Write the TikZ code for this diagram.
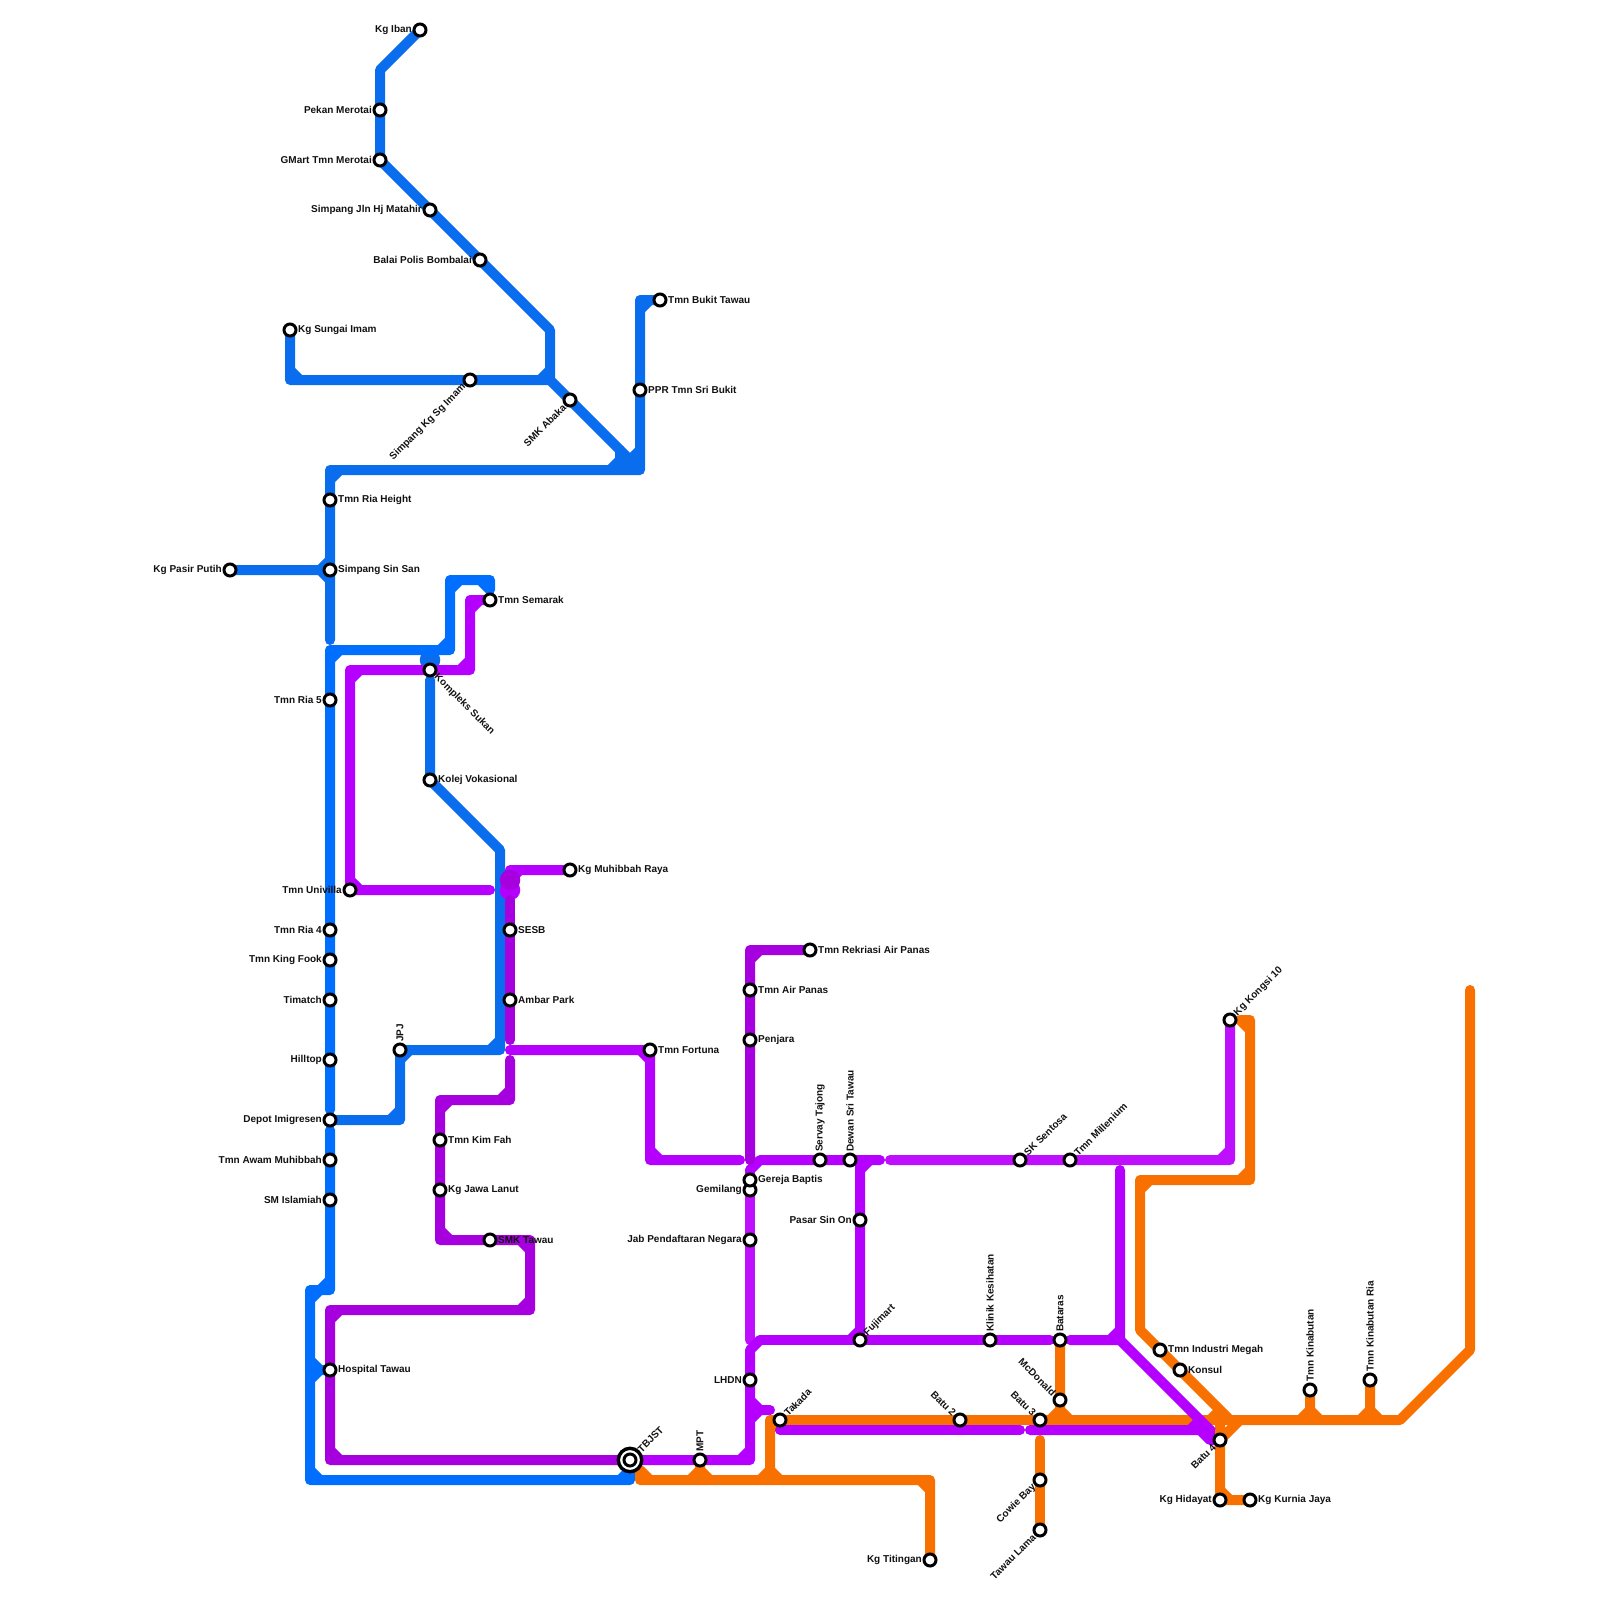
\documentclass[tikz,border=0pt]{standalone}
\usepackage{fontspec}
\setmainfont{Liberation Sans}
\usepackage{xcolor}
\usepackage{tikz}
\usetikzlibrary{backgrounds}
\definecolor{bluedk}{HTML}{0A6DEE}
\definecolor{bluebr}{HTML}{006EFF}
\definecolor{purpbr}{HTML}{B500FF}
\definecolor{purpdk}{HTML}{A600DE}
\definecolor{purplt}{HTML}{BE10FF}
\definecolor{orng}{HTML}{F77000}
\definecolor{inkc}{HTML}{111111}

\begin{document}
\begin{tikzpicture}[x=1pt,y=-1pt,
  stn/.style={circle,draw=black,fill=white,line width=3pt,minimum size=12pt,inner sep=0pt},
  hub/.style={circle,draw=black,fill=white,line width=3.4pt,minimum size=23.4pt,inner sep=0pt},
  lab/.style={font=\bfseries\fontsize{10}{12}\selectfont,text=inkc,inner sep=0pt},
  rlab/.style={lab,anchor=west,xshift=8pt},
  llab/.style={lab,anchor=east,xshift=-8pt},
  vlab/.style={lab,rotate=90,anchor=west,xshift=8pt},
  nelab/.style={lab,rotate=45,anchor=west,xshift=8pt},
  swlab/.style={lab,rotate=45,anchor=east,xshift=-8pt},
  nwlab/.style={lab,rotate=-45,anchor=east,xshift=-8pt},
  selab/.style={lab,rotate=-45,anchor=west,xshift=8pt},
  ln/.style={line width=10pt,line cap=round,line join=round},
  blob/.style={circle,minimum size=20.5pt,inner sep=0pt},
]
\useasboundingbox (0,0) rectangle (1600,1600);

\node[stn] (kgiban) at (420,30) {}; \node[llab] (lkgiban) at (kgiban.center) {Kg Iban};
\node[stn] (pekan) at (380,110) {}; \node[llab] (lpekan) at (pekan.center) {Pekan Merotai};
\node[stn] (gmart) at (380,160) {}; \node[llab] (lgmart) at (gmart.center) {GMart Tmn Merotai};
\node[stn] (matahir) at (430,210) {}; \node[llab] (lmatahir) at (matahir.center) {Simpang Jln Hj Matahir};
\node[stn] (bombalai) at (480,260) {}; \node[llab] (lbombalai) at (bombalai.center) {Balai Polis Bombalai};
\node[stn] (kgsungai) at (290,330) {}; \node[rlab] (lkgsungai) at (kgsungai.center) {Kg Sungai Imam};
\node[stn] (sgimam) at (470,380) {}; \node[swlab] (lsgimam) at (sgimam.center) {Simpang Kg Sg Imam};
\node[stn] (abaka) at (570,400) {}; \node[swlab] (labaka) at (abaka.center) {SMK Abaka};
\node[stn] (bukit) at (660,300) {}; \node[rlab] (lbukit) at (bukit.center) {Tmn Bukit Tawau};
\node[stn] (ppr) at (640,390) {}; \node[rlab] (lppr) at (ppr.center) {PPR Tmn Sri Bukit};
\node[stn] (riaheight) at (330,500) {}; \node[rlab] (lriaheight) at (riaheight.center) {Tmn Ria Height};
\node[stn] (pasir) at (230,570) {}; \node[llab] (lpasir) at (pasir.center) {Kg Pasir Putih};
\node[stn] (sinsan) at (330,570) {}; \node[rlab] (lsinsan) at (sinsan.center) {Simpang Sin San};
\node[stn] (semarak) at (490,600) {}; \node[rlab] (lsemarak) at (semarak.center) {Tmn Semarak};
\node[stn] (ria5) at (330,700) {}; \node[llab] (lria5) at (ria5.center) {Tmn Ria 5};
\node[stn] (kompleks) at (430,670) {}; \node[selab] (lkompleks) at (kompleks.center) {Kompleks Sukan};
\node[stn] (kolej) at (430,780) {}; \node[rlab] (lkolej) at (kolej.center) {Kolej Vokasional};
\node[stn] (muhibbah) at (570,870) {}; \node[rlab] (lmuhibbah) at (muhibbah.center) {Kg Muhibbah Raya};
\node[stn] (univilla) at (350,890) {}; \node[llab] (lunivilla) at (univilla.center) {Tmn Univilla};
\node[stn] (ria4) at (330,930) {}; \node[llab] (lria4) at (ria4.center) {Tmn Ria 4};
\node[stn] (kingfook) at (330,960) {}; \node[llab] (lkingfook) at (kingfook.center) {Tmn King Fook};
\node[stn] (sesb) at (510,930) {}; \node[rlab] (lsesb) at (sesb.center) {SESB};
\node[stn] (timatch) at (330,1000) {}; \node[llab] (ltimatch) at (timatch.center) {Timatch};
\node[stn] (ambar) at (510,1000) {}; \node[rlab] (lambar) at (ambar.center) {Ambar Park};
\node[stn] (hilltop) at (330,1060) {}; \node[llab] (lhilltop) at (hilltop.center) {Hilltop};
\node[stn] (jpj) at (400,1050) {}; \node[vlab] (ljpj) at (jpj.center) {JPJ};
\node[stn] (fortuna) at (650,1050) {}; \node[rlab] (lfortuna) at (fortuna.center) {Tmn Fortuna};
\node[stn] (depot) at (330,1120) {}; \node[llab] (ldepot) at (depot.center) {Depot Imigresen};
\node[stn] (awam) at (330,1160) {}; \node[llab] (lawam) at (awam.center) {Tmn Awam Muhibbah};
\node[stn] (islamiah) at (330,1200) {}; \node[llab] (lislamiah) at (islamiah.center) {SM Islamiah};
\node[stn] (kimfah) at (440,1140) {}; \node[rlab] (lkimfah) at (kimfah.center) {Tmn Kim Fah};
\node[stn] (jawa) at (440,1190) {}; \node[rlab] (ljawa) at (jawa.center) {Kg Jawa Lanut};
\node[stn] (smktawau) at (490,1240) {}; \node[rlab] (lsmktawau) at (smktawau.center) {SMK Tawau};
\node[stn] (hospital) at (330,1370) {}; \node[rlab] (lhospital) at (hospital.center) {Hospital Tawau};
\node[hub] (tbjstring) at (630,1460) {};
\node[stn] (tbjst) at (630,1460) {}; \node[nelab,xshift=5pt] (ltbjst) at (tbjst.center) {TBJST};
\node[stn] (mpt) at (700,1460) {}; \node[vlab] (lmpt) at (mpt.center) {MPT};
\node[stn] (lhdn) at (750,1380) {}; \node[llab] (llhdn) at (lhdn.center) {LHDN};
\node[stn] (takada) at (780,1420) {}; \node[nelab] (ltakada) at (takada.center) {Takada};
\node[stn] (batu2) at (960,1420) {}; \node[nwlab] (lbatu2) at (batu2.center) {Batu 2};
\node[stn] (batu3) at (1040,1420) {}; \node[nwlab] (lbatu3) at (batu3.center) {Batu 3};
\node[stn] (cowie) at (1040,1480) {}; \node[swlab] (lcowie) at (cowie.center) {Cowie Bay};
\node[stn] (tawaulama) at (1040,1530) {}; \node[swlab] (ltawaulama) at (tawaulama.center) {Tawau Lama};
\node[stn] (titingan) at (930,1560) {}; \node[llab] (ltitingan) at (titingan.center) {Kg Titingan};
\node[stn] (mcdonald) at (1060,1400) {}; \node[nwlab] (lmcdonald) at (mcdonald.center) {McDonald};
\node[stn] (bataras) at (1060,1340) {}; \node[vlab] (lbataras) at (bataras.center) {Bataras};
\node[stn] (klinik) at (990,1340) {}; \node[vlab] (lklinik) at (klinik.center) {Klinik Kesihatan};
\node[stn] (fujimart) at (860,1340) {}; \node[nelab] (lfujimart) at (fujimart.center) {Fujimart};
\node[stn] (sinon) at (860,1220) {}; \node[llab] (lsinon) at (sinon.center) {Pasar Sin On};
\node[stn] (jab) at (750,1240) {}; \node[llab] (ljab) at (jab.center) {Jab Pendaftaran Negara};
\node[stn] (gemilang) at (750,1190) {}; \node[llab] (lgemilang) at (gemilang.center) {Gemilang};
\node[stn] (gereja) at (750,1180) {}; \node[rlab] (lgereja) at (gereja.center) {Gereja Baptis};
\node[stn] (penjara) at (750,1040) {}; \node[rlab] (lpenjara) at (penjara.center) {Penjara};
\node[stn] (airpanas) at (750,990) {}; \node[rlab] (lairpanas) at (airpanas.center) {Tmn Air Panas};
\node[stn] (rekriasi) at (810,950) {}; \node[rlab] (lrekriasi) at (rekriasi.center) {Tmn Rekriasi Air Panas};
\node[stn] (servay) at (820,1160) {}; \node[vlab] (lservay) at (servay.center) {Servay Tajong};
\node[stn] (dewan) at (850,1160) {}; \node[vlab] (ldewan) at (dewan.center) {Dewan Sri Tawau};
\node[stn] (sentosa) at (1020,1160) {}; \node[nelab] (lsentosa) at (sentosa.center) {SK Sentosa};
\node[stn] (millenium) at (1070,1160) {}; \node[nelab] (lmillenium) at (millenium.center) {Tmn Millenium};
\node[stn] (kongsi) at (1230,1020) {}; \node[nelab] (lkongsi) at (kongsi.center) {Kg Kongsi 10};
\node[stn] (industri) at (1160,1350) {}; \node[rlab] (lindustri) at (industri.center) {Tmn Industri Megah};
\node[stn] (konsul) at (1180,1370) {}; \node[rlab] (lkonsul) at (konsul.center) {Konsul};
\node[stn] (batu4) at (1220,1440) {}; \node[swlab] (lbatu4) at (batu4.center) {Batu 4};
\node[stn] (hidayat) at (1220,1500) {}; \node[llab] (lhidayat) at (hidayat.center) {Kg Hidayat};
\node[stn] (kurnia) at (1250,1500) {}; \node[rlab] (lkurnia) at (kurnia.center) {Kg Kurnia Jaya};
\node[stn] (kinabutan) at (1310,1390) {}; \node[vlab] (lkinabutan) at (kinabutan.center) {Tmn Kinabutan};
\node[stn] (kinaria) at (1370,1380) {}; \node[vlab] (lkinaria) at (kinaria.center) {Tmn Kinabutan Ria};

\coordinate (riaend) at (330,640);
\coordinate (kolejtop) at (430,680);
\coordinate (semtop) at (490,590);
\coordinate (hillend) at (330,1110);
\coordinate (awamtop) at (330,1130);
\coordinate (bluefoot) at (630,1470);
\coordinate (univend) at (490,890);
\coordinate (muhend) at (510,880);
\coordinate (forttop) at (510,1050);
\coordinate (fortend) at (740,1160);
\coordinate (serstart) at (760,1160);
\coordinate (serend) at (880,1160);
\coordinate (senstart) at (890,1160);
\coordinate (gerstart) at (750,1170);
\coordinate (jabend) at (750,1340);
\coordinate (fujstart) at (760,1340);
\coordinate (klinend) at (1050,1340);
\coordinate (batstart) at (1070,1340);
\coordinate (uptop) at (1120,1170);
\coordinate (stubend) at (770,1410);
\coordinate (lowa) at (780,1430);
\coordinate (lowb) at (1020,1430);
\coordinate (lowc) at (1030,1430);
\coordinate (dkfoot) at (510,1060);
\coordinate (sestop) at (510,900);
\coordinate (ambend) at (510,1040);
\coordinate (rekend) at (750,1160);
\coordinate (orfoot) at (640,1470);
\coordinate (ortop) at (1240,1020);
\coordinate (orright) at (1470,990);
\coordinate (cowtop) at (1040,1440);
\coordinate (hidtop) at (1220,1430);

\begin{pgfonlayer}{background}
\draw[ln,bluedk] (kgiban.center) -- (380,70) -- (pekan.center) -- (gmart.center) -- (matahir.center)
  -- (bombalai.center) -- (550,330) -- (550,380) -- (abaka.center) -- (630,460) -- (640,450);
\draw[ln,bluedk] (kgsungai.center) -- (290,380) -- (sgimam.center) -- (550,380)
  (290,370) -- (300,380) (540,380) -- (550,370);
\draw[ln,bluedk] (bukit.center) -- (640,300) -- (ppr.center) -- (640,470) -- (330,470)
  -- (riaheight.center) -- (sinsan.center) -- (riaend)
  (650,300) -- (640,310) (340,470) -- (330,480)
  (630,460) -- (630,470) (630,460) -- (640,460) (630,460) -- (620,470)
  (620,450) -- (620,470) (620,460) -- (630,460) (620,460) -- (610,470);
\draw[ln,bluedk] (pasir.center) -- (sinsan.center) (320,570) -- (330,560) (320,570) -- (330,580);
\node[blob,fill=bluedk] (kompdot) at (430,660) {};
\draw[ln,bluedk] (kolejtop) -- (kolej.center) -- (500,850) -- (500,1050) -- (jpj.center)
  -- (400,1120) -- (depot.center)
  (500,1040) -- (490,1050) (410,1050) -- (400,1060) (400,1110) -- (390,1120);

\draw[ln,bluebr] (hillend) -- (hilltop.center) -- (timatch.center) -- (kingfook.center)
  -- (ria4.center) -- (ria5.center) -- (330,650) -- (450,650) -- (450,580) -- (490,580) -- (semtop)
  (330,660) -- (340,650) (440,650) -- (450,640) (450,590) -- (460,580) (480,580) -- (490,590);
\draw[ln,bluebr] (awamtop) -- (awam.center) -- (islamiah.center) -- (330,1290) -- (310,1290)
  -- (310,1480) -- (630,1480) -- (bluefoot)
  (330,1280) -- (320,1290) (320,1290) -- (310,1300) (310,1470) -- (320,1480) (620,1480) -- (630,1470)
  (310,1360) -- (320,1370) -- (310,1380) (310,1370) -- (hospital.center);

\draw[ln,orng] (orfoot) -- (640,1480) -- (930,1480) -- (titingan.center)
  (640,1470) -- (650,1480) (920,1480) -- (930,1490)
  (mpt.center) -- (700,1480) (690,1480) -- (700,1470) -- (710,1480);
\draw[ln,orng] (770,1480) -- (770,1420) -- (takada.center) -- (batu2.center) -- (batu3.center) -- (1230,1420)
  (760,1480) -- (770,1470) -- (780,1480) (770,1430) -- (780,1420);
\draw[ln,orng] (bataras.center) -- (mcdonald.center) -- (1060,1420) (1050,1420) -- (1060,1410) -- (1070,1420);
\draw[ln,orng] (cowtop) -- (cowie.center) -- (tawaulama.center);
\draw[ln,orng] (ortop) -- (1250,1020) -- (1250,1180) -- (1140,1180) -- (1140,1330) -- (industri.center)
  -- (konsul.center) -- (1230,1420) -- (1400,1420) -- (1470,1350) -- (orright)
  (1240,1020) -- (1250,1030) (1240,1180) -- (1250,1170) (1140,1190) -- (1150,1180)
  (1210,1420) -- (1220,1410) -- (1220,1440) (1240,1420) -- (1220,1440);
\draw[ln,orng] (kinabutan.center) -- (1310,1420) (1300,1420) -- (1310,1410) -- (1320,1420);
\draw[ln,orng] (kinaria.center) -- (1370,1420) (1360,1420) -- (1370,1410) -- (1380,1420);

\draw[ln,purplt] (senstart) -- (sentosa.center) -- (millenium.center) -- (1230,1160) -- (kongsi.center)
  (1220,1160) -- (1230,1150);
\draw[ln,purplt] (gerstart) -- (gereja.center) -- (gemilang.center) -- (jab.center) -- (jabend);
\draw[ln,purpbr] (semarak.center) -- (470,600) -- (470,670) -- (kompleks.center) -- (350,670)
  -- (univilla.center) -- (univend)
  (470,610) -- (480,600) (460,670) -- (470,660) (350,680) -- (360,670) (350,880) -- (360,890);
\node[blob,fill=purpbr] (muhdot) at (510,890) {};
\draw[ln,purpbr] (muhibbah.center) -- (510,870) -- (muhend) (520,870) -- (510,880);
\draw[ln,purpbr] (forttop) -- (fortuna.center) -- (650,1160) -- (fortend)
  (640,1050) -- (650,1060) (650,1150) -- (660,1160);
\draw[ln,purpbr] (serstart) -- (servay.center) -- (dewan.center) -- (serend) (760,1160) -- (750,1170);
\draw[ln,purpbr] (860,1160) -- (sinon.center) -- (fujimart.center) (860,1170) -- (870,1160) (850,1340) -- (860,1330);
\draw[ln,purpbr] (fujstart) -- (fujimart.center) -- (klinik.center) -- (klinend);
\draw[ln,purpbr] (fujstart) -- (750,1350) -- (lhdn.center) -- (750,1460) -- (mpt.center) -- (tbjst.center)
  (750,1450) -- (740,1460) (750,1410) -- (stubend) (750,1400) -- (760,1410) -- (750,1420);
\draw[ln,purpbr] (batstart) -- (1120,1340) -- (uptop) (1110,1340) -- (1120,1330);
\draw[ln,purpbr] (1120,1340) -- (1210,1430) -- (batu4.center);
\draw[ln,purpbr] (lowa) -- (lowb);
\draw[ln,purpbr] (lowc) -- (1210,1430) -- (1210,1440) -- (batu4.center)
  (1200,1430) -- (1210,1440) (1190,1430) -- (1200,1420);

\draw[ln,purpdk] (tbjst.center) -- (330,1460) -- (hospital.center) -- (330,1310) -- (530,1310) -- (530,1240)
  -- (smktawau.center) -- (440,1240) -- (jawa.center) -- (kimfah.center) -- (440,1100) -- (510,1100) -- (dkfoot)
  (340,1460) -- (330,1450) (330,1320) -- (340,1310) (520,1310) -- (530,1300) (530,1250) -- (520,1240)
  (440,1230) -- (450,1240) (440,1110) -- (450,1100) (500,1100) -- (510,1090);
\draw[ln,purpdk] (rekriasi.center) -- (750,950) -- (airpanas.center) -- (penjara.center) -- (rekend)
  (750,960) -- (760,950);
\draw[ln,purpdk] (sestop) -- (sesb.center) -- (ambar.center) -- (ambend);
\node[blob,fill=purpdk] (sesdot) at (510,880) {};

\draw[ln,orng] (hidtop) -- (batu4.center) -- (hidayat.center) -- (kurnia.center) (1220,1490) -- (1230,1500);
\end{pgfonlayer}
\end{tikzpicture}
\end{document}
